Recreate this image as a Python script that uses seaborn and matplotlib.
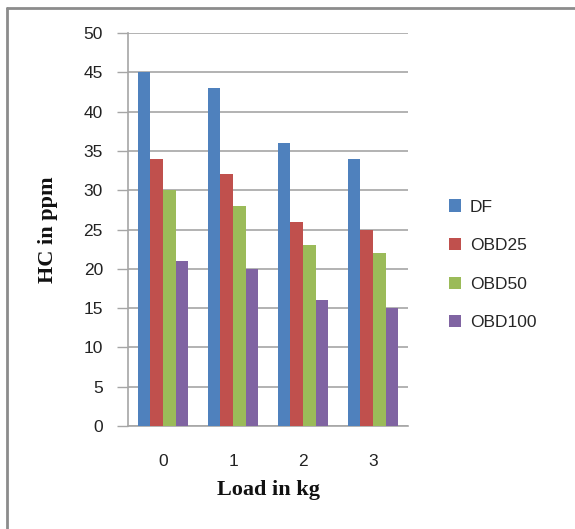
import matplotlib
matplotlib.use("Agg")
import matplotlib.pyplot as plt
import seaborn as sns
import pandas as pd
from matplotlib.lines import Line2D

# Data: hydrocarbon emissions by engine load for each fuel blend
loads = ["0", "1", "2", "3"]
fuels = ["DF", "OBD25", "OBD50", "OBD100"]
df_vals = [45, 43, 36, 34]
obd25_vals = [34, 32, 26, 25]
obd50_vals = [30, 28, 23, 22]
obd100_vals = [21, 20, 16, 15]
y_ticks = [0, 5, 10, 15, 20, 25, 30, 35, 40, 45, 50]

colors = ["#4F81BD", "#C0504D", "#9BBB59", "#8064A2"]

rows = []
for fuel, vals in zip(fuels, [df_vals, obd25_vals, obd50_vals, obd100_vals]):
    for load, v in zip(loads, vals):
        rows.append({"Load": load, "Fuel": fuel, "HC": v})
data = pd.DataFrame(rows)

sns.set_theme(style="white")
plt.rcParams["font.family"] = ["Liberation Sans", "DejaVu Sans"]

fig = plt.figure(figsize=(5.75, 5.29), dpi=100)
ax = fig.add_axes([0.2226, 0.1947, 0.487, 0.7429])

sns.barplot(data=data, x="Load", y="HC", hue="Fuel", hue_order=fuels,
            order=loads, palette=colors, width=0.72, saturation=1,
            edgecolor="none", linewidth=0, ax=ax, zorder=3)

ax.set_ylim(0, 50)
ax.set_xlim(-0.5, 3.5)
ax.set_yticks(y_ticks)
ax.set_yticklabels([str(t) for t in y_ticks], fontsize=12.5, color="#222222")
ax.tick_params(axis="y", length=8, width=1, color="#A6A6A6", pad=10, direction="out", left=True)
ax.tick_params(axis="x", length=0, pad=20, labelsize=12.5, labelcolor="#222222")
ax.yaxis.grid(True, color="#A6A6A6", linewidth=1.2, zorder=0)
ax.set_axisbelow(True)

for side in ["top", "right"]:
    ax.spines[side].set_visible(False)
for side in ["left", "bottom"]:
    ax.spines[side].set_color("#A6A6A6")
    ax.spines[side].set_linewidth(1.2)

ax.set_xlabel("Load in kg", fontsize=16, fontweight="bold",
              family="Liberation Serif", labelpad=8, color="#111111")
ax.set_ylabel("HC in ppm", fontsize=16, fontweight="bold",
              family="Liberation Serif", labelpad=18, color="#111111")

ax.legend(loc="center left", bbox_to_anchor=(1.09, 0.41), frameon=False,
          fontsize=12.5, handlelength=0.7, handleheight=0.7, handletextpad=0.5,
          labelspacing=1.35, title=None)

# Outer chart frame (top and left edges)
fig.add_artist(Line2D([0.013, 1.0], [1 - 8 / 529, 1 - 8 / 529],
                      transform=fig.transFigure, color="#8C8C8C", linewidth=2))
fig.add_artist(Line2D([0.013, 0.013], [0.0, 1 - 8 / 529],
                      transform=fig.transFigure, color="#8C8C8C", linewidth=2))

fig.savefig("out.png", dpi=100, facecolor="white")
